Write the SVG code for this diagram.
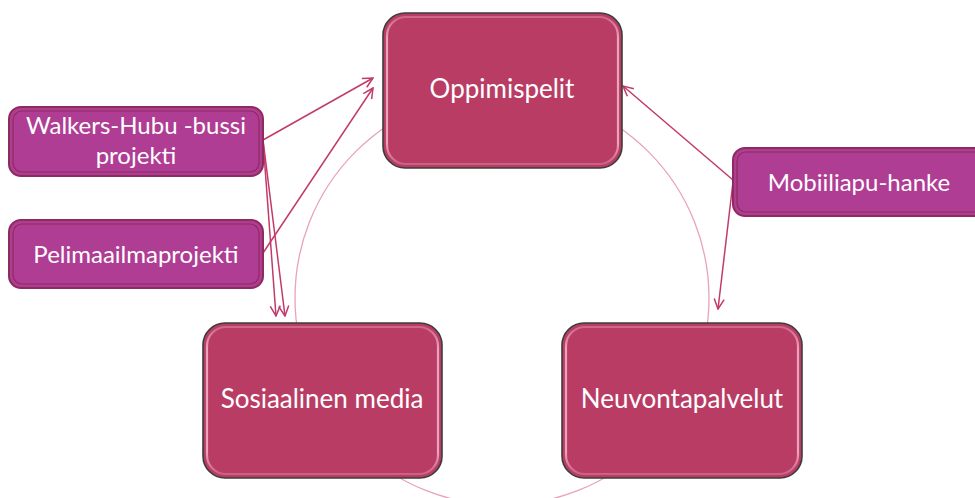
<svg xmlns="http://www.w3.org/2000/svg" width="975" height="498" viewBox="0 0 975 498">
<defs>
<style>
.main{fill:#B93C65;stroke:#3C3C3C;stroke-width:1.6}
.gloss{fill:none;stroke:url(#gl);stroke-width:2.2}
.side{fill:#B03D94;stroke:#8E2B5E;stroke-width:2}
.sidein{fill:none;stroke:#8E2B5E;stroke-width:1.2}
.t{font-family:Lato,"Open Sans",sans-serif;fill:#FFFFFF;text-anchor:middle}
.tm{font-size:26px}
.ts{font-size:24px}
.arr{stroke:#C23A6B;stroke-width:1.5;fill:none;marker-end:url(#ah)}
.ring{fill:none;stroke:#E7A3BC;stroke-width:1.3}
</style>
<linearGradient id="gl" x1="0" y1="0" x2="0" y2="1">
<stop offset="0" stop-color="#F5B5CC" stop-opacity="0.35"/>
<stop offset="0.15" stop-color="#F5B5CC" stop-opacity="0.85"/>
<stop offset="0.85" stop-color="#F5B5CC" stop-opacity="0.85"/>
<stop offset="1" stop-color="#F5B5CC" stop-opacity="0.3"/>
</linearGradient>
<marker id="ah" viewBox="0 0 12 12" refX="11" refY="6" markerWidth="12" markerHeight="12" markerUnits="userSpaceOnUse" orient="auto">
<path d="M1,1 L11,6 L1,11" fill="none" stroke="#C23A6B" stroke-width="1.5"/>
</marker>
</defs>
<g id="cycle">
<circle class="ring" cx="502" cy="298" r="207"/>
</g>
<g id="connectors">
<line class="arr" x1="263" y1="140" x2="373" y2="78"/>
<line class="arr" x1="263" y1="253" x2="373" y2="88"/>
<line class="arr" x1="263" y1="140" x2="276" y2="316"/>
<line class="arr" x1="263" y1="140" x2="285" y2="316"/>
<line class="arr" x1="733" y1="180" x2="623" y2="86"/>
<line class="arr" x1="733" y1="182" x2="718" y2="309"/>
</g>
<g id="oppimispelit">
<rect class="main" x="383" y="13" width="239" height="155" rx="22"/>
<rect class="gloss" x="387" y="17" width="231" height="147" rx="19"/>
<text class="t tm" x="502" y="98">Oppimispelit</text>
</g>
<g id="sosiaalinen">
<rect class="main" x="203" y="323" width="239" height="155" rx="22"/>
<rect class="gloss" x="207" y="327" width="231" height="147" rx="19"/>
<text class="t tm" x="322" y="408">Sosiaalinen media</text>
</g>
<g id="neuvonta">
<rect class="main" x="562" y="323" width="240" height="155" rx="22"/>
<rect class="gloss" x="566" y="327" width="232" height="147" rx="19"/>
<text class="t tm" x="682" y="408">Neuvontapalvelut</text>
</g>
<g id="walkers">
<rect class="side" x="9" y="107" width="254" height="69" rx="12"/>
<rect class="sidein" x="13" y="111" width="246" height="61" rx="9"/>
<text class="t ts" x="136" y="134">Walkers-Hubu -bussi</text>
<text class="t ts" x="136" y="164">projekti</text>
</g>
<g id="pelimaailma">
<rect class="side" x="9" y="220" width="254" height="68" rx="12"/>
<rect class="sidein" x="13" y="224" width="246" height="60" rx="9"/>
<text class="t ts" x="136" y="263">Pelimaailmaprojekti</text>
</g>
<g id="mobiiliapu">
<rect class="side" x="733" y="148" width="260" height="68" rx="12"/>
<rect class="sidein" x="737" y="152" width="252" height="60" rx="9"/>
<text class="t ts" x="859" y="191">Mobiiliapu-hanke</text>
</g>
</svg>
